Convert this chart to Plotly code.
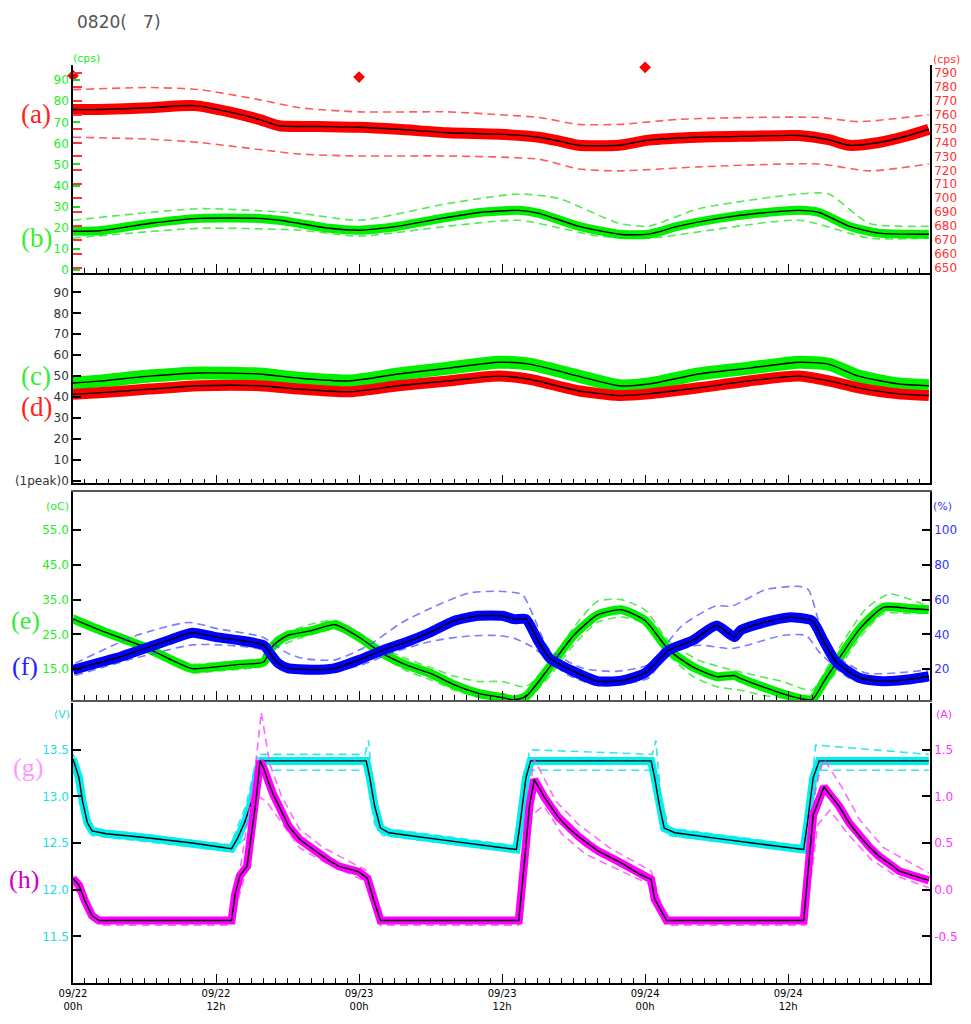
import plotly.graph_objects as go

# ---------------- data (hours since 09/22 00h) ----------------
# Panel 1: (a) red count rate [right axis, cps], (b) green count rate [left axis, cps]
t_a = [0, 2.2, 6.4, 10.2, 13.1, 15.6, 17.3, 20.6, 24, 27.3, 31.5, 35.7, 39.1, 40.8, 42.4,
       45.8, 48.3, 52.5, 56.7, 60.9, 63.4, 65.1, 67.6, 70.1, 71.8]
a_cps = [763.7, 763.7, 765, 766.5, 762, 756.6, 752, 751.5, 751, 749.5, 747, 746, 743.8, 741, 738,
         738, 741.7, 743.8, 744.5, 745, 742, 738, 740, 745, 749.5]
t_a_hi = [0, 6.4, 10.6, 15.6, 19, 24, 31.5, 35.7, 39.1, 42.4, 45.8, 50.8, 56.7, 62.6, 66, 71.8]
a_hi = [778, 779.5, 778, 770.8, 765, 762, 762, 760, 758, 753, 753, 756.6, 758, 758, 755, 760]
t_a_lo = [0, 6.4, 10.6, 15.6, 19, 24, 31.5, 39.1, 42.4, 45.8, 52.5, 62.6, 66.8, 71.8]
a_lo = [743.8, 742.4, 740, 735, 731.7, 730.3, 730.3, 728, 721, 719.6, 722.5, 724.6, 719.6, 724.6]
t_spike = [0, 24, 48]
a_spike = [788, 787, 794]

t_b = [0, 2.2, 6.4, 10.6, 15.6, 17.3, 19, 21.5, 24, 27.3, 30.9, 34.1, 37.4, 39.1, 42.4,
       45.8, 48.3, 50.8, 54.2, 57.5, 60.9, 62.6, 65.1, 67.6, 71.8]
b_cps = [18.3, 18.5, 22, 24.4, 24.4, 23.5, 22, 19.7, 18.8, 20.7, 24.4, 27.2, 28.2, 26.8, 20.7,
         16.9, 16.9, 20.7, 24.4, 26.8, 28.2, 27.2, 20.7, 17.4, 16.9]
t_b_hi = [0, 10.6, 19, 24, 31.5, 37.4, 40.8, 45.8, 48.3, 52.5, 60.9, 63.4, 66.8, 71.8]
b_hi = [23.5, 29, 26.8, 23.5, 31.5, 36, 33.8, 22, 20.7, 29, 36, 36, 22, 20.7]
t_b_lo = [0, 10.6, 19, 24, 31.5, 37.4, 44.1, 48.3, 60.9, 66.8, 71.8]
b_lo = [15, 19.7, 18.8, 16, 20.7, 23.5, 16, 15, 23.5, 15, 15]

# Panel 2: (c) green, (d) red  [1 peak]
t_cd = [0, 2.2, 6.4, 10.6, 15.6, 19, 23.2, 27.3, 31.5, 35.7, 38.3, 42.4, 45.8, 48.3, 52.5,
        56.7, 60.9, 63.4, 65.9, 69.3, 71.8]
c_peak = [46.7, 47.6, 50, 51.5, 51, 49, 47.7, 51, 53.8, 56.6, 55.7, 50, 45.4, 46.2, 51,
          53.8, 56.6, 55.7, 50, 46.2, 45.4]
d_peak = [41.3, 42, 43.8, 45.4, 45.4, 43.8, 42.5, 45.4, 47.7, 50, 48.5, 43, 40.7, 41.5, 44.4,
          47.7, 50, 47.7, 44.4, 41.5, 40.7]

# Panel 3: (e) temperature [oC], (f) humidity [%]
t_e = [0, 2, 4, 6, 8, 10, 12, 14, 16, 16.6, 17.2, 18, 20, 22, 24, 26, 28, 30, 32, 34, 36, 37, 38,
       40, 42, 44, 46, 48, 50, 52, 54, 55.5, 56, 58, 60, 62, 63, 64, 66, 68, 70, 71.8]
e_temp = [29.5, 26.6, 24.0, 21.4, 18.1, 15.2, 15.7, 16.4, 17.1, 21.0, 23.0, 24.7, 26.1, 27.8,
          24.2, 19.5, 16.2, 13.8, 10.5, 8.1, 6.9, 6.2, 7.2, 15.7, 24.7, 30.6, 32.1, 29.0, 20.5,
          15.7, 12.9, 13.2, 12.4, 9.8, 7.5, 6.3, 11.5, 16.7, 26.6, 32.8, 32.5, 32.1]
t_e_hi = [0, 4, 8, 10, 14, 16, 17, 20, 22, 24, 26, 28, 30, 32, 34, 36, 38, 40, 42, 44, 46, 48,
          50, 52.5, 55.3, 59.5, 62, 63.7, 66.5, 68.5, 71.8]
e_hi = [30.5, 25, 19, 16.5, 17.5, 18, 24, 28, 29, 25.5, 21, 18, 15.5, 13, 11.5, 11.5, 10, 17, 27,
        34.5, 35, 32, 23, 17.6, 14.8, 11.5, 9, 18, 32.3, 36.6, 33]
t_e_lo = [0, 4, 8, 10, 12, 14, 16, 17, 20, 22, 24, 26, 28, 30, 32, 34, 36, 38, 40, 42, 44, 46,
          48, 50, 52, 54, 56, 58, 60, 62, 64, 66, 68, 70, 71.8]
e_lo = [29, 23.5, 17.5, 14, 14.5, 15, 16, 21, 25, 26.5, 23.5, 18.5, 14.5, 12, 9, 7, 6.3, 6.3, 13,
        22, 28.5, 30, 28, 19, 13, 10, 9, 7.5, 6.5, 6.3, 14, 24, 31, 31, 31]

t_f = [0, 2, 4, 6, 8, 10, 12, 14, 16, 16.6, 17.2, 18, 20, 22, 24, 26, 28, 30, 32, 34, 36, 37, 38,
       39, 40, 42, 44, 46, 48, 50, 52, 54, 55.5, 56, 58, 60, 62, 63, 64, 66, 68, 70, 71.8]
f_hum = [19.7, 23.5, 27.2, 31.9, 36.6, 41.0, 38.5, 36.6, 33.8, 28.5, 23.5, 20.7, 19.7, 20.7,
         25.4, 31.0, 35.7, 41.3, 47.9, 50.7, 50.7, 48.8, 48.8, 36.6, 26.3, 18.8, 13.2, 13.5,
         17.9, 31.0, 36.6, 45.1, 38.5, 42.3, 46.9, 49.8, 47.9, 36.0, 24.4, 15.0, 13.2, 14.1, 16.0]
t_f_hi = [0.2, 5.3, 9.7, 12.2, 15.9, 17.8, 19.2, 22, 24.8, 27.6, 30.4, 33.2, 35.7, 37.7, 38.5,
          39.9, 42.7, 45.5, 48.3, 49.7, 51.1, 53.9, 55.3, 58.1, 60.9, 61.7, 62.6, 63.7, 66.5, 71.8]
f_hi = [23.5, 39.4, 46.9, 43.2, 38.5, 30, 26.3, 25.4, 33.8, 46.9, 56.3, 63.8, 64.8, 62.9, 52.6,
        31.9, 20.7, 18.8, 22.6, 33.8, 45.1, 56.3, 56.3, 65.7, 67.6, 65.7, 46.9, 30.1, 17.9, 19.7]
t_f_lo = [0.2, 5, 10, 13, 16, 17.5, 20, 24, 27, 30, 33, 35.7, 37.1, 38.5, 41.5, 44.2, 48.3, 49.7,
          52.5, 55.3, 59.5, 61.5, 62.6, 65.1, 69.3, 71.8]
f_lo = [16.5, 26, 34, 33.8, 31, 22, 17.5, 22, 30, 36, 39, 39.4, 37.6, 33, 16.9, 10.4, 15, 28.2,
        33.8, 31.9, 39.4, 39.4, 30, 15, 11.3, 13.2]

# Panel 4: (g) voltage [V], (h) current [A]
t_g = [0, 0.5, 0.8, 1.2, 1.6, 2.8, 6, 10, 13.3, 13.8, 14.4, 15.0, 15.5, 15.8, 20, 24.6, 24.9,
       25.3, 25.8, 26.5, 30, 34, 37.2, 37.5, 38, 38.4, 44, 48.5, 48.8, 49.2, 49.6, 50.5, 54, 58,
       61.3, 61.6, 62.1, 62.6, 67, 71.8]
g_volt = [13.40, 13.20, 12.95, 12.72, 12.63, 12.60, 12.56, 12.50, 12.44, 12.55, 12.72, 12.95,
          13.30, 13.38, 13.38, 13.38, 13.20, 12.90, 12.66, 12.61, 12.55, 12.48, 12.43, 12.70,
          13.20, 13.38, 13.38, 13.38, 13.20, 12.90, 12.66, 12.61, 12.55, 12.48, 12.43, 12.70,
          13.20, 13.38, 13.38, 13.38]
t_g_hi = [0, 0.6, 1.3, 2, 13.2, 14.5, 15.5, 24.5, 24.8, 25.2, 26, 37.2, 37.8, 38.3, 48.6, 48.9,
          49.3, 50, 61.3, 61.9, 62.3, 71.8]
g_hi = [13.45, 13.25, 12.75, 12.65, 12.48, 12.9, 13.45, 13.45, 13.6, 13.0, 12.66, 12.47, 13.0,
        13.5, 13.45, 13.6, 13.0, 12.66, 12.47, 13.0, 13.55, 13.45]
t_g_lo = [0, 0.8, 1.6, 13.3, 14.8, 15.8, 24.6, 25.3, 26, 37.3, 38.4, 48.7, 49.3, 50, 61.4, 62.6, 71.8]
g_lo = [13.3, 12.9, 12.58, 12.41, 12.6, 13.28, 13.28, 12.7, 12.58, 12.40, 13.28, 13.28, 12.7,
        12.58, 12.40, 13.28, 13.28]

t_h = [0, 0.5, 1.0, 1.6, 2.2, 13.3, 13.6, 14.0, 14.6, 15.3, 15.7, 16.0, 16.4, 16.8, 17.3, 18.1,
       19.0, 19.8, 20.6, 21.4, 22.3, 23.2, 24.0, 24.7, 25.2, 25.8, 37.4, 37.8, 38.3, 38.7, 39.6,
       40.7, 41.5, 42.4, 43.2, 44.1, 45.8, 47.5, 48.5, 48.8, 49.8, 61.3, 61.6, 62.1, 63.0, 63.6,
       64.3, 65.1, 66.0, 66.8, 67.6, 68.5, 69.3, 70.5, 71.8]
h_amp = [0.12, 0.05, -0.12, -0.28, -0.33, -0.33, -0.05, 0.15, 0.25, 0.9, 1.38, 1.30, 1.15, 1.02,
         0.89, 0.68, 0.54, 0.46, 0.39, 0.32, 0.25, 0.22, 0.19, 0.12, -0.1, -0.33, -0.33, 0.2,
         0.9, 1.18, 0.98, 0.78, 0.67, 0.57, 0.49, 0.41, 0.30, 0.17, 0.11, -0.1, -0.33, -0.33,
         0.1, 0.8, 1.10, 1.00, 0.89, 0.72, 0.57, 0.46, 0.36, 0.28, 0.20, 0.15, 0.10]
t_h_hi = [0, 1.6, 2.2, 13.2, 14, 15.2, 15.8, 16.5, 17.5, 19, 21, 24, 24.7, 25.6, 37.3, 38.2, 38.7,
          40.5, 42.4, 45, 48.5, 49.7, 61.3, 62.3, 63, 64.5, 66, 68, 71.8]
h_hi = [0.15, -0.25, -0.3, -0.3, 0.2, 1.2, 1.9, 1.35, 1.0, 0.65, 0.45, 0.25, 0.2, -0.3, -0.3, 1.0,
        1.4, 0.95, 0.7, 0.45, 0.2, -0.3, -0.3, 1.1, 1.4, 1.1, 0.75, 0.45, 0.18]
t_h_lo = [0, 1.6, 2.2, 13.3, 14.5, 15.5, 16.2, 17.3, 19, 21, 24.7, 25.8, 37.4, 38.5, 39.5, 41, 43,
          46, 48.5, 49.8, 61.4, 62.5, 63.5, 65, 67, 69, 71.8]
h_lo = [0.05, -0.32, -0.38, -0.38, 0.2, 1.0, 0.95, 0.75, 0.45, 0.3, 0.08, -0.38, -0.38, 0.8, 0.9,
        0.6, 0.38, 0.2, 0.05, -0.38, -0.38, 0.7, 0.85, 0.6, 0.32, 0.15, 0.02]

x_tickvals = [0, 12, 24, 36, 48, 60]
x_ticktext = ["09/22<br>00h", "09/22<br>12h", "09/23<br>00h", "09/23<br>12h", "09/24<br>00h", "09/24<br>12h"]

# ---------------- figure ----------------
RED = "#ff0000"; GREEN = "#00f000"; BLUE = "#0000ff"; CYAN = "#00f0f0"; MAG = "#ff00ff"
FONT = "DejaVu Sans"

fig = go.Figure()

def dashed(x, y, color, xa, ya, shape="spline"):
    fig.add_trace(go.Scatter(x=x, y=y, mode="lines", xaxis=xa, yaxis=ya, hoverinfo="skip",
                             line=dict(color=color, width=1.6, dash="8px,5px", shape=shape, smoothing=0.6)))

def band(x, y, color, width, xa, ya, shape="spline"):
    fig.add_trace(go.Scatter(x=x, y=y, mode="lines", xaxis=xa, yaxis=ya, hoverinfo="skip",
                             line=dict(color=color, width=width, shape=shape, smoothing=0.6)))

def mean(x, y, xa, ya, shape="spline"):
    fig.add_trace(go.Scatter(x=x, y=y, mode="lines", xaxis=xa, yaxis=ya, hoverinfo="skip",
                             line=dict(color="black", width=1.4, shape=shape, smoothing=0.6)))

# panel 1
dashed(t_a_hi, a_hi, "rgba(255,50,50,0.8)", "x", "y2")
dashed(t_a_lo, a_lo, "rgba(255,50,50,0.8)", "x", "y2")
dashed(t_b_hi, b_hi, "rgba(40,230,40,0.8)", "x", "y")
dashed(t_b_lo, b_lo, "rgba(40,230,40,0.8)", "x", "y")
band(t_b, b_cps, GREEN, 9, "x", "y")
mean(t_b, b_cps, "x", "y")
band(t_a, a_cps, RED, 11, "x", "y2")
mean(t_a, a_cps, "x", "y2")
fig.add_trace(go.Scatter(x=t_spike, y=a_spike, mode="markers", xaxis="x", yaxis="y2",
                         marker=dict(symbol="diamond", size=9, color=RED), cliponaxis=False, hoverinfo="skip"))
fig.add_trace(go.Scatter(x=[], y=[], xaxis="x", yaxis="y3", hoverinfo="skip"))

# panel 2
band(t_cd, c_peak, GREEN, 13, "x2", "y4")
mean(t_cd, c_peak, "x2", "y4")
band(t_cd, d_peak, RED, 11, "x2", "y4")
mean(t_cd, d_peak, "x2", "y4")

# panel 3
dashed(t_e_hi, e_hi, "rgba(40,230,40,0.8)", "x3", "y5")
dashed(t_e_lo, e_lo, "rgba(40,230,40,0.8)", "x3", "y5")
dashed(t_f_hi, f_hi, "rgba(80,80,255,0.75)", "x3", "y6")
dashed(t_f_lo, f_lo, "rgba(80,80,255,0.75)", "x3", "y6")
band(t_e, e_temp, GREEN, 9, "x3", "y5")
mean(t_e, e_temp, "x3", "y5")
band(t_f, f_hum, BLUE, 10, "x3", "y6")
mean(t_f, f_hum, "x3", "y6")

# panel 4
dashed(t_g_hi, g_hi, "rgba(0,225,225,0.8)", "x4", "y7", "linear")
dashed(t_g_lo, g_lo, "rgba(0,225,225,0.8)", "x4", "y7", "linear")
dashed(t_h_hi, h_hi, "rgba(255,70,255,0.8)", "x4", "y8", "linear")
dashed(t_h_lo, h_lo, "rgba(255,70,255,0.8)", "x4", "y8", "linear")
band(t_g, g_volt, CYAN, 8, "x4", "y7", "linear")
mean(t_g, g_volt, "x4", "y7", "linear")
band(t_h, h_amp, MAG, 8, "x4", "y8", "linear")
mean(t_h, h_amp, "x4", "y8", "linear")

# ---------------- layout ----------------
L, R, T, B = 73, 930, 65, 993
def px(v): return (v - L) / (R - L)
def py(v): return (B - v) / (B - T)

def xax(anchor, labels=False, mirror=False, color="black"):
    d = dict(range=[0, 71.9], anchor=anchor, domain=[0, 1], showgrid=False, zeroline=False,
             showline=True, linecolor=color, linewidth=1.5, mirror=mirror,
             ticks="inside", ticklen=9, tickwidth=1, tickcolor="black",
             tickmode="array", tickvals=x_tickvals, ticktext=x_ticktext, showticklabels=labels,
             tickfont=dict(family=FONT, size=10, color="black"),
             minor=dict(ticks="inside", ticklen=5, tickwidth=1, tickcolor="black",
                        tickmode="linear", tick0=0, dtick=1, showgrid=False),
             fixedrange=True)
    return d

def yax(domain, rng, vals, text, color, side="left", overlay=None, anchor="x", ticks="inside",
        ticklen=8, tickcolor="black", labels=True, line=True, mirror=False):
    d = dict(domain=domain, range=rng, side=side, anchor=anchor, tickmode="array", tickvals=vals,
             ticktext=text, showgrid=False, zeroline=False, showline=line, linecolor="black",
             linewidth=1.5, mirror=mirror, ticks=ticks, ticklen=ticklen, tickwidth=1.5,
             tickcolor=tickcolor, showticklabels=labels,
             tickfont=dict(family=FONT, size=12, color=color), fixedrange=True)
    if overlay:
        d["overlaying"] = overlay
        d.pop("domain")
    return d

d1 = [py(275), 1.0]
d2 = [py(488), py(275)]
d3 = [py(707), py(497)]
d4 = [0.0, py(710)]

v_b = list(range(0, 100, 10))
v_a = list(range(650, 800, 10))
v_c = list(range(0, 100, 10))
t_c = ["(1peak)0"] + [str(v) for v in v_c[1:]]

fig.update_layout(
    width=971, height=1024, margin=dict(l=L, r=971 - R, t=T, b=1024 - B),
    paper_bgcolor="white", plot_bgcolor="white", showlegend=False, hovermode=False,
    xaxis=xax("y"),
    xaxis2=xax("y4"),
    xaxis3=xax("y5", mirror=True, color="#555555"),
    xaxis4=xax("y7", labels=True),
    yaxis=yax(d1, [-1.4, 97.2], v_b, [str(v) for v in v_b], "#22ee22", tickcolor="#22dd22", ticklen=7),
    yaxis2=yax(None, [646.4, 795.7], v_a, [str(v) for v in v_a], "#ff3333", side="right",
               overlay="y", ticks=""),
    yaxis3=yax(None, [646.4, 795.7], v_a, [str(v) for v in v_a], "#ff3333", side="left",
               overlay="y", tickcolor="#ff3333", ticklen=9, labels=False, line=False),
    yaxis4=yax(d2, [-1.3, 99.4], v_c, t_c, "#333333", anchor="x2", mirror=True),
    yaxis5=yax(d3, [6.16, 65.8], [15, 25, 35, 45, 55], ["15.0", "25.0", "35.0", "45.0", "55.0"],
               "#22ee22", anchor="x3"),
    yaxis6=yax(None, [2.32, 121.6], [20, 40, 60, 80, 100], ["20", "40", "60", "80", "100"],
               "#3333ff", side="right", overlay="y5", anchor="x3"),
    yaxis7=yax(d4, [11.0, 14.0], [11.5, 12.0, 12.5, 13.0, 13.5], ["11.5", "12.0", "12.5", "13.0", "13.5"],
               "#22dddd", anchor="x4"),
    yaxis8=yax(None, [-1.0, 2.0], [-0.5, 0.0, 0.5, 1.0, 1.5], ["-0.5", "0.0", "0.5", "1.0", "1.5"],
               "#ff33ff", side="right", overlay="y7", anchor="x4"),
)

ann = []
def note(text, x, y, color, size, family=FONT, xanchor="center"):
    ann.append(dict(text=text, x=px(x), y=py(y), xref="paper", yref="paper", showarrow=False,
                    xanchor=xanchor, yanchor="middle", font=dict(family=family, size=size, color=color)))

note("0820(\u00a0\u00a0\u00a07)", 75, 22, "#555555", 17, xanchor="left")
note("(cps)", 86, 58, "#22ee22", 11)
note("(cps)", 946, 59, "#ff3333", 11)
note("(oC)", 57, 511, "#22ee22", 11)
note("(%)", 942, 511, "#3333ff", 11)
note("(V)", 62, 722, "#22dddd", 11)
note("(A)", 944, 722, "#ff33ff", 11)

SERIF = "Liberation Serif"
note("(a)", 36, 115, "#ff2222", 27, SERIF)
note("(b)", 36, 240, "#33ee33", 27, SERIF)
note("(c)", 36, 379, "#33ee33", 27, SERIF)
note("(d)", 36, 411, "#ff2222", 27, SERIF)
note("(e)", 25, 627, "#33ee33", 26, SERIF)
note("(f)", 25, 673, "#2222ff", 26, SERIF)
note("(g)", 28, 775, "#ff99ff", 26, SERIF)
note("(h)", 24, 888, "#cc00cc", 26, SERIF)
fig.update_layout(annotations=ann)

fig.write_html("out.html")
